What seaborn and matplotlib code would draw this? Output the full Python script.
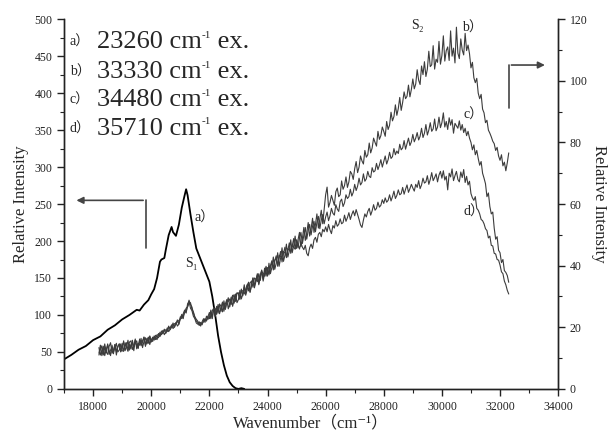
import numpy as np
import pandas as pd
import matplotlib
matplotlib.use("Agg")
import matplotlib.pyplot as plt
import seaborn as sns
from matplotlib.ticker import MultipleLocator

# curve a) 23260 cm-1 excitation, left axis
a_x = [17000, 17250, 17500, 17750, 18000, 18250, 18500, 18750, 19000, 19250,
       19500, 19600, 19750, 19900, 20000, 20100, 20200, 20300, 20350, 20450,
       20500, 20600, 20700, 20750, 20850, 20950, 21050, 21150, 21200, 21250,
       21350, 21450, 21550, 21750, 21900, 22000, 22100, 22200, 22300, 22400,
       22500, 22600, 22700, 22800, 22900, 23000, 23100, 23200]
a_y = [40, 46, 53, 58, 66, 71, 80, 86, 94, 100,
       107, 106, 114, 120, 128, 135, 150, 172, 175, 177,
       188, 208, 219, 212, 207, 222, 245, 262, 270, 262,
       236, 212, 190, 170, 155, 145, 125, 100, 72, 50,
       32, 18, 9, 4, 1, 0, 1, 0]

# curves b, c, d on the right axis, read every 50 cm-1 from 18200 to 32300
bcd_x = list(range(18200, 32301, 50))
b_y = [11.6, 14.2, 10.8, 12.6, 14.6, 12.0, 11.2, 13.8, 15.0, 11.6, 12.6, 14.4, 11.0, 13.8, 14.6, 12.0,
       13.0, 15.6, 12.4, 13.8, 15.8, 12.6, 14.4, 15.0, 12.4, 15.8, 14.0, 13.2, 16.2, 14.0, 15.2, 16.8, 13.8, 15.8, 16.8, 14.4,
       16.2, 15.4, 17.2, 16.6, 16.0, 18.0, 17.2, 17.8, 19.0, 17.6, 18.4, 19.8, 18.6, 19.4, 20.8, 19.6, 20.2, 21.6, 20.4, 21.0,
       22.6, 23.8, 22.8, 25.4, 24.6, 27.6, 28.4, 26.2, 25.4, 23.6, 22.8, 21.4, 21.0, 21.8, 20.4, 21.8, 22.8, 21.6, 23.6, 22.6,
       23.0, 25.6, 22.8, 26.4, 23.6, 25.2, 27.4, 24.4, 26.2, 28.2, 25.2, 27.6, 29.0, 26.0, 27.8, 29.8, 26.8, 28.8, 30.8, 28.0,
       29.0, 32.0, 29.2, 30.8, 33.8, 30.4, 32.2, 34.6, 31.4, 33.4, 36.0, 32.8, 34.8, 37.4, 33.8, 36.2, 38.6, 35.0, 37.4, 39.8,
       36.6, 40.8, 37.4, 39.4, 42.8, 38.8, 40.8, 44.2, 39.8, 42.4, 45.8, 41.4, 43.4, 47.0, 42.8, 44.8, 48.4, 44.2, 46.4, 49.6,
       45.6, 48.4, 50.8, 46.2, 48.8, 52.4, 48.2, 50.6, 54.0, 49.6, 52.0, 55.4, 50.8, 53.4, 56.8, 52.2, 55.0, 58.0, 53.6, 58.4,
       63.0, 65.5, 59.0, 60.5, 62.8, 61.2, 59.6, 64.0, 65.2, 62.4, 63.0, 67.5, 64.8, 66.0, 68.8, 65.4, 67.2, 70.6, 69.8, 68.0,
       71.5, 73.8, 70.2, 72.0, 75.6, 74.0, 73.0, 77.4, 75.2, 76.0, 79.8, 76.6, 78.2, 81.4, 80.0, 78.8, 83.6, 81.0, 82.2, 85.0,
       83.6, 82.0, 86.8, 84.2, 85.6, 89.8, 87.0, 88.4, 92.2, 88.8, 91.0, 94.6, 90.4, 93.0, 96.4, 94.2, 95.0, 98.6, 94.8, 97.2,
       100.6, 97.4, 99.0, 103.6, 100.2, 98.8, 104.8, 102.0, 106.2, 101.4, 103.8, 109.6, 104.6, 105.2, 111.4, 103.8, 107.0, 106.0, 112.8, 105.4,
       108.2, 114.6, 106.4, 109.8, 111.0, 106.6, 116.2, 108.0, 110.6, 105.8, 117.4, 109.0, 107.2, 113.6, 110.0, 108.4, 115.4, 109.8, 111.6, 108.8,
       104.2, 106.0, 101.0, 99.4, 100.8, 96.0, 94.2, 95.6, 90.8, 89.6, 86.4, 87.2, 84.0, 83.0, 81.8, 80.4, 79.6, 77.4, 78.4, 75.6,
       74.2, 76.0, 72.4, 73.6, 70.8, 73.4, 76.6]
c_y = [11.0, 12.8, 14.0, 11.0, 13.6, 11.8, 14.6, 12.6, 10.8, 14.2, 12.0, 13.4, 14.8, 12.0, 12.6, 14.6,
       12.4, 12.2, 15.0, 13.4, 12.2, 15.2, 15.6, 12.8, 14.0, 16.2, 13.0, 14.8, 14.2, 16.4, 13.4, 15.4, 16.6, 14.6, 15.6, 17.2,
       15.6, 16.8, 15.8, 17.4, 17.0, 16.6, 18.4, 17.6, 18.2, 19.4, 18.0, 19.0, 20.4, 19.2, 20.0, 21.4, 20.0, 21.2, 22.4, 21.0,
       23.4, 22.8, 24.4, 25.6, 25.0, 26.8, 28.8, 27.4, 26.6, 24.6, 23.2, 22.0, 21.6, 20.6, 21.6, 20.8, 22.2, 22.8, 22.0, 23.4,
       24.8, 22.8, 25.4, 26.2, 23.6, 26.8, 24.6, 27.6, 26.8, 25.0, 28.6, 26.0, 28.0, 29.6, 26.6, 28.8, 30.4, 27.8, 29.8, 31.2,
       30.8, 29.0, 32.4, 30.2, 33.0, 31.0, 33.6, 34.6, 31.4, 34.2, 36.0, 33.4, 35.6, 37.0, 34.2, 37.0, 38.4, 35.6, 39.2, 36.6,
       39.4, 37.0, 40.0, 41.6, 38.6, 41.6, 43.2, 39.8, 42.4, 44.6, 41.2, 44.0, 46.0, 42.6, 45.0, 47.4, 44.0, 46.4, 48.8, 45.4,
       48.4, 45.8, 49.0, 50.8, 47.2, 49.8, 52.4, 48.6, 51.4, 53.4, 50.0, 52.8, 54.4, 51.0, 54.0, 56.0, 52.0, 54.8, 56.6, 53.6,
       55.8, 57.4, 54.6, 56.2, 58.6, 57.0, 56.4, 59.8, 58.4, 57.6, 60.8, 61.6, 59.2, 60.4, 63.0, 61.8, 62.4, 64.8, 62.6, 63.8,
       66.4, 64.4, 65.8, 68.4, 66.2, 67.0, 69.8, 67.4, 68.2, 70.6, 69.0, 68.6, 71.8, 70.4, 70.8, 73.2, 71.2, 72.6, 74.4, 72.0,
       73.8, 75.6, 73.0, 74.4, 76.8, 74.8, 75.4, 78.0, 76.0, 77.2, 76.4, 79.4, 77.6, 78.2, 80.6, 77.8, 79.6, 81.4, 79.0, 80.2,
       82.6, 80.2, 81.4, 83.2, 80.8, 82.0, 84.6, 81.6, 83.0, 85.8, 82.4, 84.0, 86.4, 83.6, 84.4, 87.6, 83.8, 85.0, 88.2, 84.8,
       86.4, 89.6, 85.0, 86.8, 84.2, 88.0, 85.6, 87.4, 83.0, 86.2, 85.4, 84.6, 87.0, 84.0, 85.8, 83.2, 84.6, 82.2, 83.6, 81.4,
       80.0, 77.6, 79.2, 76.0, 77.4, 74.8, 72.6, 73.8, 70.0, 68.4, 66.6, 62.4, 63.6, 59.2, 56.8, 57.4, 52.2, 48.6, 49.4, 45.0,
       44.2, 41.0, 42.0, 38.4, 37.8, 36.8, 34.6]
d_y = [13.4, 11.0, 12.4, 13.8, 10.8, 12.8, 14.2, 11.2, 12.6, 13.6, 11.4, 14.4, 12.2, 13.6, 14.6, 12.2,
       14.8, 12.4, 13.8, 15.0, 12.6, 14.4, 13.0, 15.8, 13.6, 15.0, 15.6, 13.2, 15.8, 14.4, 15.6, 16.8, 14.2, 16.4, 14.8, 17.0,
       15.2, 16.4, 16.8, 16.0, 17.6, 17.4, 17.0, 18.8, 18.0, 18.8, 19.2, 18.6, 20.0, 19.8, 20.6, 20.2, 21.2, 21.0, 21.8, 22.2,
       22.8, 24.2, 23.6, 24.8, 26.2, 26.6, 27.8, 28.0, 25.8, 25.0, 23.4, 22.6, 22.0, 20.8, 21.0, 21.4, 21.8, 22.6, 22.4, 23.6,
       22.8, 25.0, 23.4, 25.8, 26.2, 24.2, 26.6, 27.0, 25.2, 27.8, 27.6, 25.8, 28.6, 28.4, 29.2, 27.4, 29.6, 30.6, 28.4, 31.0,
       31.2, 29.4, 32.0, 31.8, 30.8, 32.4, 33.8, 31.8, 34.4, 35.0, 33.0, 36.0, 35.6, 34.8, 37.4, 35.2, 38.0, 37.6, 36.6, 39.4,
       38.6, 37.4, 39.4, 41.0, 39.2, 41.8, 42.2, 40.2, 43.4, 43.0, 42.8, 44.6, 44.2, 43.0, 45.6, 45.0, 44.6, 46.6, 46.0, 45.4,
       46.2, 47.0, 45.4, 47.4, 46.0, 45.2, 46.6, 44.0, 43.2, 45.8, 47.0, 45.6, 48.4, 49.2, 47.6, 50.2, 50.8, 49.4, 51.8, 51.0,
       52.6, 51.0, 53.4, 51.6, 50.4, 53.0, 52.2, 54.6, 52.8, 53.4, 55.2, 53.6, 54.0, 56.4, 54.4, 55.6, 57.2, 55.0, 56.6, 57.8,
       56.2, 58.2, 56.6, 55.0, 53.2, 52.4, 54.8, 56.8, 55.8, 57.6, 58.6, 56.4, 57.8, 59.8, 58.0, 58.6, 60.6, 59.0, 59.6, 61.4,
       60.2, 62.0, 60.6, 61.2, 63.0, 61.0, 62.4, 64.2, 61.8, 62.8, 64.6, 63.0, 63.4, 65.4, 63.2, 64.8, 66.2, 63.8, 65.0, 66.4,
       65.2, 64.2, 66.4, 65.4, 67.6, 65.0, 66.2, 68.4, 66.8, 67.2, 69.2, 66.4, 68.0, 70.2, 67.6, 68.6, 69.8, 67.2, 69.4, 70.6,
       68.4, 70.8, 67.8, 69.0, 64.6, 70.0, 68.8, 71.4, 67.6, 69.2, 70.6, 68.0, 67.2, 70.4, 68.6, 71.2, 67.0, 69.0, 66.2, 67.4,
       63.4, 62.0, 61.2, 62.4, 58.6, 58.0, 56.8, 55.0, 54.6, 53.6, 52.0, 51.4, 49.0, 49.6, 46.6, 46.4, 44.0, 43.8, 42.0, 41.8,
       40.2, 38.0, 37.4, 35.0, 33.8, 32.0, 30.8]

legend_tags = ["a）", "b）", "c）", "d）"]
legend_exc = ["23260", "33330", "34480", "35710"]

sns.set_style("ticks")
plt.rcParams['font.family'] = ['Liberation Serif', 'DejaVu Serif', 'Noto Sans CJK SC']
plt.rcParams['xtick.direction'] = 'out'
plt.rcParams['ytick.direction'] = 'out'

df_a = pd.DataFrame({"wn": a_x, "val": a_y})
df_bcd = pd.DataFrame({
    "wn": bcd_x * 3,
    "val": b_y + c_y + d_y,
    "series": ["b"] * len(bcd_x) + ["c"] * len(bcd_x) + ["d"] * len(bcd_x),
})

fig = plt.figure(figsize=(6.1, 4.36), dpi=100)
ax = fig.add_axes([0.105, 0.108, 0.81, 0.848])
ax2 = ax.twinx()

sns.lineplot(data=df_a, x="wn", y="val", color="black", linewidth=1.3, ax=ax)
sns.lineplot(data=df_bcd, x="wn", y="val", hue="series",
             palette=["#3c3c3c", "#3c3c3c", "#3c3c3c"], linewidth=0.8,
             estimator=None, legend=False, ax=ax2)

ax.set_xlim(17000, 34000)
ax.set_ylim(0, 500)
ax2.set_ylim(0, 120)

ax.xaxis.set_major_locator(MultipleLocator(2000))
ax.xaxis.set_minor_locator(MultipleLocator(1000))
ax.yaxis.set_major_locator(MultipleLocator(50))
ax.yaxis.set_minor_locator(MultipleLocator(25))
ax2.yaxis.set_major_locator(MultipleLocator(20))
ax2.yaxis.set_minor_locator(MultipleLocator(10))

for a in (ax, ax2):
    a.spines['top'].set_visible(False)
    for s in a.spines.values():
        s.set_linewidth(1.0)
        s.set_color("#222222")
    a.tick_params(which='major', length=5, width=1.0, labelsize=8.5, colors="#222222")
    a.tick_params(which='minor', length=3, width=0.8, colors="#222222")

ax.set_xlabel("Wavenumber（cm⁻¹）", fontsize=12, labelpad=2)
ax.set_ylabel("Relative Intensity", fontsize=12, labelpad=4)
ax2.set_ylabel("Relative Intensity", fontsize=12, rotation=-90, labelpad=14)

# legend block: tag, big number + cm, small -1 superscript, ex.
rows = [0.938, 0.857, 0.781, 0.703]
for tag, num, yy in zip(legend_tags, legend_exc, rows):
    ax.text(0.012, yy, tag, transform=ax.transAxes, fontsize=10, va='center', ha='left')
    t1 = ax.text(0.067, yy, num + " cm", transform=ax.transAxes, fontsize=19, va='center', ha='left')
    t2 = ax.annotate("-1", xy=(1.0, 0.82), xycoords=t1, fontsize=8, va='center', ha='left')
    ax.annotate(" ex.", xy=(1.0, 0.5), xycoords=(t2, t1), fontsize=19, va='center', ha='left')

# curve labels
ax.text(21500, 231, "a）", fontsize=10, va='center')
ax.text(21150, 170, "S₁", fontsize=10, va='center')
ax2.text(28950, 118, "S₂", fontsize=10, va='center')
ax2.text(30700, 117, "b）", fontsize=10, va='center')
ax2.text(30750, 89, "c）", fontsize=10, va='center')
ax2.text(30750, 57.5, "d）", fontsize=10, va='center')

# axis pointer arrows
ax.plot([19817, 19817], [190, 255], color="#444444", linewidth=1.2)
ax.annotate("", xy=(17330, 255), xytext=(19817, 255),
            arrowprops=dict(arrowstyle="-|>", color="#444444", lw=1.2, mutation_scale=10))
ax.plot([32295, 32295], [380, 438], color="#444444", linewidth=1.2)
ax.annotate("", xy=(33640, 438), xytext=(32295, 438),
            arrowprops=dict(arrowstyle="-|>", color="#444444", lw=1.2, mutation_scale=10))

fig.savefig("out.png", dpi=100)
